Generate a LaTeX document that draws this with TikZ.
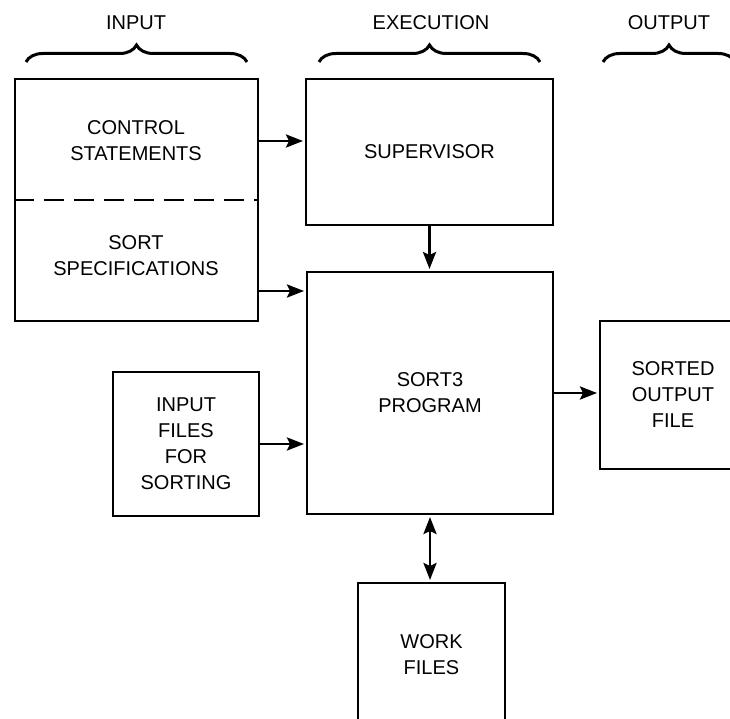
\documentclass[tikz,border=0pt]{standalone}
\usepackage{fontspec}
\setmainfont{Liberation Sans}
\usetikzlibrary{arrows.meta,decorations.pathreplacing}
\tikzset{
    box/.style = {draw, line width = 2pt, inner sep = 0pt, align = center},
    txt/.style = {align = center},
    flow/.style = {line width = 2.8pt, shorten > = 2pt, -{Stealth[length = 17pt, width = 13pt, inset = 3pt]}},
    flowboth/.style = {line width = 2.8pt, shorten > = 2pt, shorten < = 2pt, {Stealth[length = 17pt, width = 13pt, inset = 3pt]}-{Stealth[length = 17pt, width = 13pt, inset = 3pt]}},
    curly/.style = {decorate, decoration = {brace, amplitude = 17pt}, line width = 3pt}
}
\begin{document}
\begin{tikzpicture}[x = 1pt, y = -1pt, font = \fontsize{20}{26}\selectfont]
        \useasboundingbox (0,0) rectangle (730,719);
        \node (hin) at (136,23) {INPUT};
        \node (hexe) at (431,23) {EXECUTION};
        \node (hout) at (669,23) {OUTPUT};
        \draw[curly] (26,62) -- (247,62);
        \draw[curly] (319,62) -- (540,62);
        \draw[curly] (603,62) -- (735,62);
        \node[box, minimum width = 243pt, minimum height = 242pt] (in) at (136.5,200) {};
        \node[txt] (ctrl) at (136,141) {CONTROL\\STATEMENTS};
        \node[txt] (spec) at (136,256) {SORT\\SPECIFICATIONS};
        \draw[line width = 2.2pt, dash pattern = on 20pt off 10pt] (in.west) -- (in.east);
        \node[box, minimum width = 247pt, minimum height = 146pt] (sup) at (429.5,152) {SUPERVISOR};
        \node[box, minimum width = 246pt, minimum height = 242pt] (sort) at (430,393) {SORT3\\PROGRAM};
        \node[box, minimum width = 146pt, minimum height = 144pt] (files) at (186,444) {INPUT\\FILES\\FOR\\SORTING};
        \node[box, minimum width = 146pt, minimum height = 148pt] (out) at (673,395) {SORTED\\OUTPUT\\FILE};
        \node[box, minimum width = 147pt, minimum height = 144pt] (work) at (431.5,655) {WORK\\FILES};
        \draw[flow] (ctrl.east -| in.east) -- (ctrl.east -| sup.west);
        \draw[flow] ([yshift = -20pt]in.east |- sort.north) -- ([yshift = -20pt]sort.north west);
        \draw[flow] (sup.south) -- (sup.south |- sort.north);
        \draw[flow] (files.east) -- (files.east -| sort.west);
        \draw[flow] (sort.east) -- (sort.east -| out.west);
        \draw[flowboth] (sort.south) -- (sort.south |- work.north);
\end{tikzpicture}
\end{document}
